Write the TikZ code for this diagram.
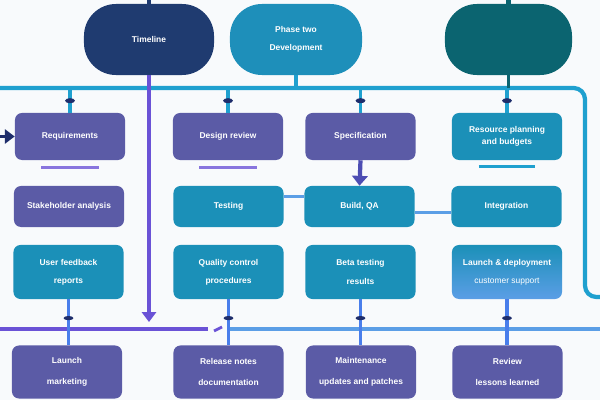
\documentclass[tikz,border=0pt]{standalone}
\usepackage{fontspec}
\setmainfont{Liberation Sans}
\usetikzlibrary{arrows.meta}

\definecolor{navy}{HTML}{1F3B70}
\definecolor{oceanblue}{HTML}{1E8FBA}
\definecolor{deepteal}{HTML}{0B6470}
\definecolor{boxpurple}{HTML}{5B5BA6}
\definecolor{boxteal}{HTML}{1B90B8}
\definecolor{buscyan}{HTML}{1FA0CF}
\definecolor{linepurple}{HTML}{6A52D6}
\definecolor{lineblue}{HTML}{5B9EE6}
\definecolor{capnavy}{HTML}{1E2D6B}
\definecolor{paper}{HTML}{F8FAFC}

\begin{document}
\begin{tikzpicture}[x=0.025cm, y=-0.025cm,
    pill/.style={rounded corners=0.8cm, minimum width=3.25cm, minimum height=1.775cm,
        text=white, font=\fontsize{6}{9}\selectfont\bfseries, align=center},
    card/.style={rounded corners=5pt, minimum width=2.75cm, inner sep=2pt,
        text=white, font=\fontsize{6}{9}\selectfont\bfseries, align=center},
    purplecard/.style={card, fill=boxpurple},
    tealcard/.style={card, fill=boxteal},
    row1/.style={minimum height=1.175cm},
    row2/.style={minimum height=1.025cm},
    row3/.style={minimum height=1.35cm},
    row4/.style={minimum height=1.325cm},
    bus/.style={line width=3pt, buscyan},
    link/.style={line width=2.6pt, buscyan},
    droplink/.style={line width=2.6pt, lineblue!80!blue},
    sidelink/.style={line width=2pt, lineblue},
    underbar/.style={line width=2pt},
    stubcap/.style={fill=capnavy}]

    % Fond
    \fill[paper] (0,0) rectangle (600,400);
    \useasboundingbox (0,0) rectangle (600,400);

    % Bus du haut
    \coordinate (busW) at (0,88);
    \coordinate (busE) at (600,297);
    \draw[bus, rounded corners=8pt] (busW) -- (585,88) -- (585,297) -- (busE);

    % Bus du bas
    \coordinate (lowW) at (0,329);
    \coordinate (lowE) at (600,329);
    \draw[line width=3pt, linepurple] (lowW) -- (208,329);
    \draw[line width=2pt, linepurple] (214,331) -- (222,327);
    \draw[line width=3pt, lineblue] (230,329) -- (lowE);

    % Capsules
    \node[pill, fill=navy] (timeline) at (149,39.5) {Timeline};
    \node[pill, fill=oceanblue, minimum width=3.3cm] (phase) at (296,39.5) {Phase two\\[4pt]Development};
    \node[pill, fill=deepteal, minimum width=3.175cm] (launch) at (508.5,39.5) {};

    % Ligne 1
    \node[purplecard, row1] (req) at (70,136.5) {Requirements};
    \node[purplecard, row1] (design) at (228,136.5) {Design review};
    \node[purplecard, row1] (spec) at (360.5,136.5) {Specification};
    \node[tealcard, row1] (res) at (507,136.5) {Resource planning\\and budgets};

    % Ligne 2
    \node[purplecard, row2] (stake) at (69,206.5) {Stakeholder analysis};
    \node[tealcard, row2] (test) at (228.5,206.5) {Testing};
    \node[tealcard, row2] (build) at (359.5,206.5) {Build, QA};
    \node[tealcard, row2] (integ) at (506.5,206.5) {Integration};

    % Ligne 3
    \node[tealcard, row3] (feedback) at (68.5,272) {User feedback\\[4pt]reports};
    \node[tealcard, row3] (quality) at (228.5,272) {Quality control\\[4pt]procedures};
    \node[tealcard, row3] (beta) at (360.5,272) {Beta testing\\[4pt]results};
    \node[card, row3, top color=boxteal, bottom color=lineblue] (deploy) at (507,272)
        {Launch \& deployment\\[4pt]{\mdseries customer support}};

    % Ligne 4
    \node[purplecard, row4] (market) at (67,372) {Launch\\[6pt]marketing};
    \node[purplecard, row4] (notes) at (228.5,372) {Release notes\\[6pt]documentation};
    \node[purplecard, row4] (maint) at (361,372) {Maintenance\\[6pt]updates and patches};
    \node[purplecard, row4] (lessons) at (507.5,372) {Review\\[6pt]lessons learned};

    % Traits d'attache en haut
    \coordinate (topA) at (149,0);
    \coordinate (topC) at (508.5,0);
    \draw[line width=3pt, navy] (topA) -- (timeline.north);
    \draw[line width=3pt, deepteal] (topC) -- (launch.north);
    \draw[link] (phase.south) -- (phase.south |- busW);
    \draw[link, deepteal] (launch.south) -- (launch.south |- busW);

    % Bus -> ligne 1
    \foreach \card in {req,design,spec,res} {
        \draw[link] (\card.north |- busW) -- (\card.north);
        \fill[stubcap] ([yshift=0.3cm]\card.north) ellipse (3.5pt and 1.8pt);
    }

    % Ligne 3 -> ligne 4
    \foreach \upper/\lower in {feedback/market,quality/notes,beta/maint,deploy/lessons} {
        \draw[droplink] (\upper.south) -- (\upper.south |- \lower.north);
        \fill[stubcap] ([yshift=-0.47cm]\upper.south) ellipse (3.5pt and 1.5pt);
    }

    % Grande fleche violette
    \coordinate (timelineEnd) at (149,322);
    \draw[line width=2.5pt, linepurple, -{Triangle[length=7pt,width=10pt]}]
        (timeline.south) -- (timelineEnd);

    % Fleches entre cartes
    \coordinate (reqIn) at (0,136.5);
    \draw[line width=2pt, capnavy, -{Triangle[length=7pt,width=10pt]}] (reqIn) -- (req.west);
    \draw[line width=3pt, boxpurple!85!blue, -{Triangle[length=7pt,width=11pt]}] (spec.south) -- (build.north);
    \draw[sidelink] ([yshift=0.24cm]test.east) -- ([yshift=0.24cm]build.west);
    \draw[sidelink] ([yshift=-0.14cm]build.east) -- ([yshift=-0.14cm]integ.west);

    % Soulignements
    \draw[underbar, linepurple!80] ([xshift=-0.72cm,yshift=-0.18cm]req.south) -- ([xshift=0.72cm,yshift=-0.18cm]req.south);
    \draw[underbar, linepurple!80] ([xshift=-0.72cm,yshift=-0.18cm]design.south) -- ([xshift=0.72cm,yshift=-0.18cm]design.south);
    \draw[underbar, buscyan] ([xshift=-0.7cm,yshift=-0.15cm]res.south) -- ([xshift=0.7cm,yshift=-0.15cm]res.south);
\end{tikzpicture}
\end{document}
